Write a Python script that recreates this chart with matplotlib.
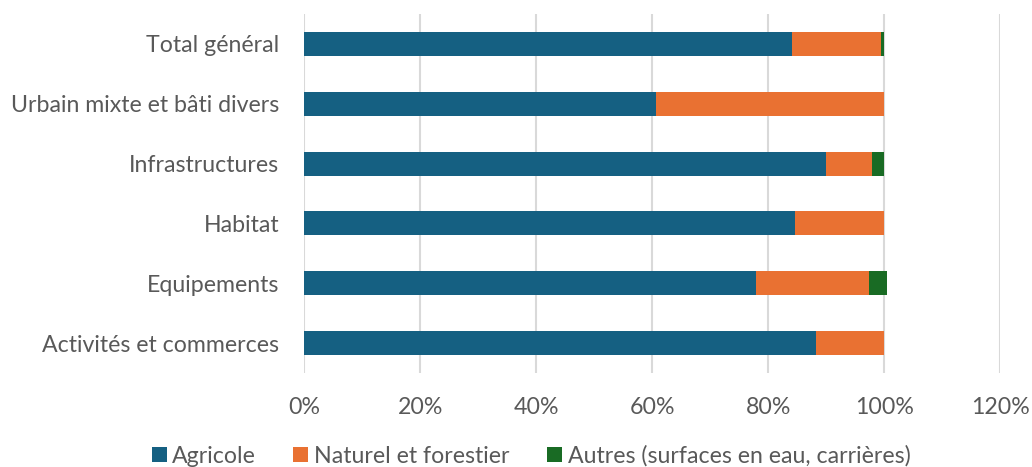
import matplotlib
matplotlib.use("Agg")
import matplotlib.pyplot as plt
import numpy as np

plt.rcParams['font.family'] = ['Lato', 'DejaVu Sans']

# categories, bottom to top
categories = ["Activités et commerces", "Equipements", "Habitat",
              "Infrastructures", "Urbain mixte et bâti divers", "Total général"]
agricole = [88.2, 77.9, 84.6, 89.9, 60.6, 84.1]
naturel = [11.8, 19.5, 15.4, 8.0, 39.4, 15.4]
autres = [0.0, 3.0, 0.0, 2.1, 0.0, 0.5]
series_names = ["Agricole", "Naturel et forestier", "Autres (surfaces en eau, carrières)"]
colors = ["#156082", "#E97132", "#196B24"]
grey = "#595959"
fs = 16.7

fig = plt.figure(figsize=(10.32, 4.67), dpi=100)
ax = fig.add_axes([0.2949, 0.2013, 0.6744, 0.7687])

y = np.arange(len(categories))
left = np.zeros(len(categories))
for vals, name, col in zip([agricole, naturel, autres], series_names, colors):
    vals = np.array(vals) / 100
    ax.barh(y, vals, left=left, height=0.4, color=col, label=name, zorder=3)
    left = left + vals

ax.set_xlim(0, 1.2)
ax.set_ylim(-0.5, len(categories) - 0.5)
ax.set_xticks(np.arange(0, 1.21, 0.2))
ax.set_xticklabels([f"{int(round(t*100))}%" for t in np.arange(0, 1.21, 0.2)])
ax.set_yticks(y)
ax.set_yticklabels(categories)
ax.tick_params(axis='both', length=0, labelsize=fs, labelcolor=grey)
ax.tick_params(axis='x', pad=17)
ax.tick_params(axis='y', pad=18)
ax.grid(axis='x', color="#D9D9D9", linewidth=1.5, zorder=0)
for s in ax.spines.values():
    s.set_visible(False)

leg = fig.legend(loc='center', bbox_to_anchor=(531 / 1032, 1 - 456 / 467), ncol=3,
                 frameon=False, fontsize=fs, handlelength=0.65, handleheight=0.65,
                 handletextpad=0.25, columnspacing=1.6, labelcolor=grey)

fig.savefig("out.png", dpi=100)
